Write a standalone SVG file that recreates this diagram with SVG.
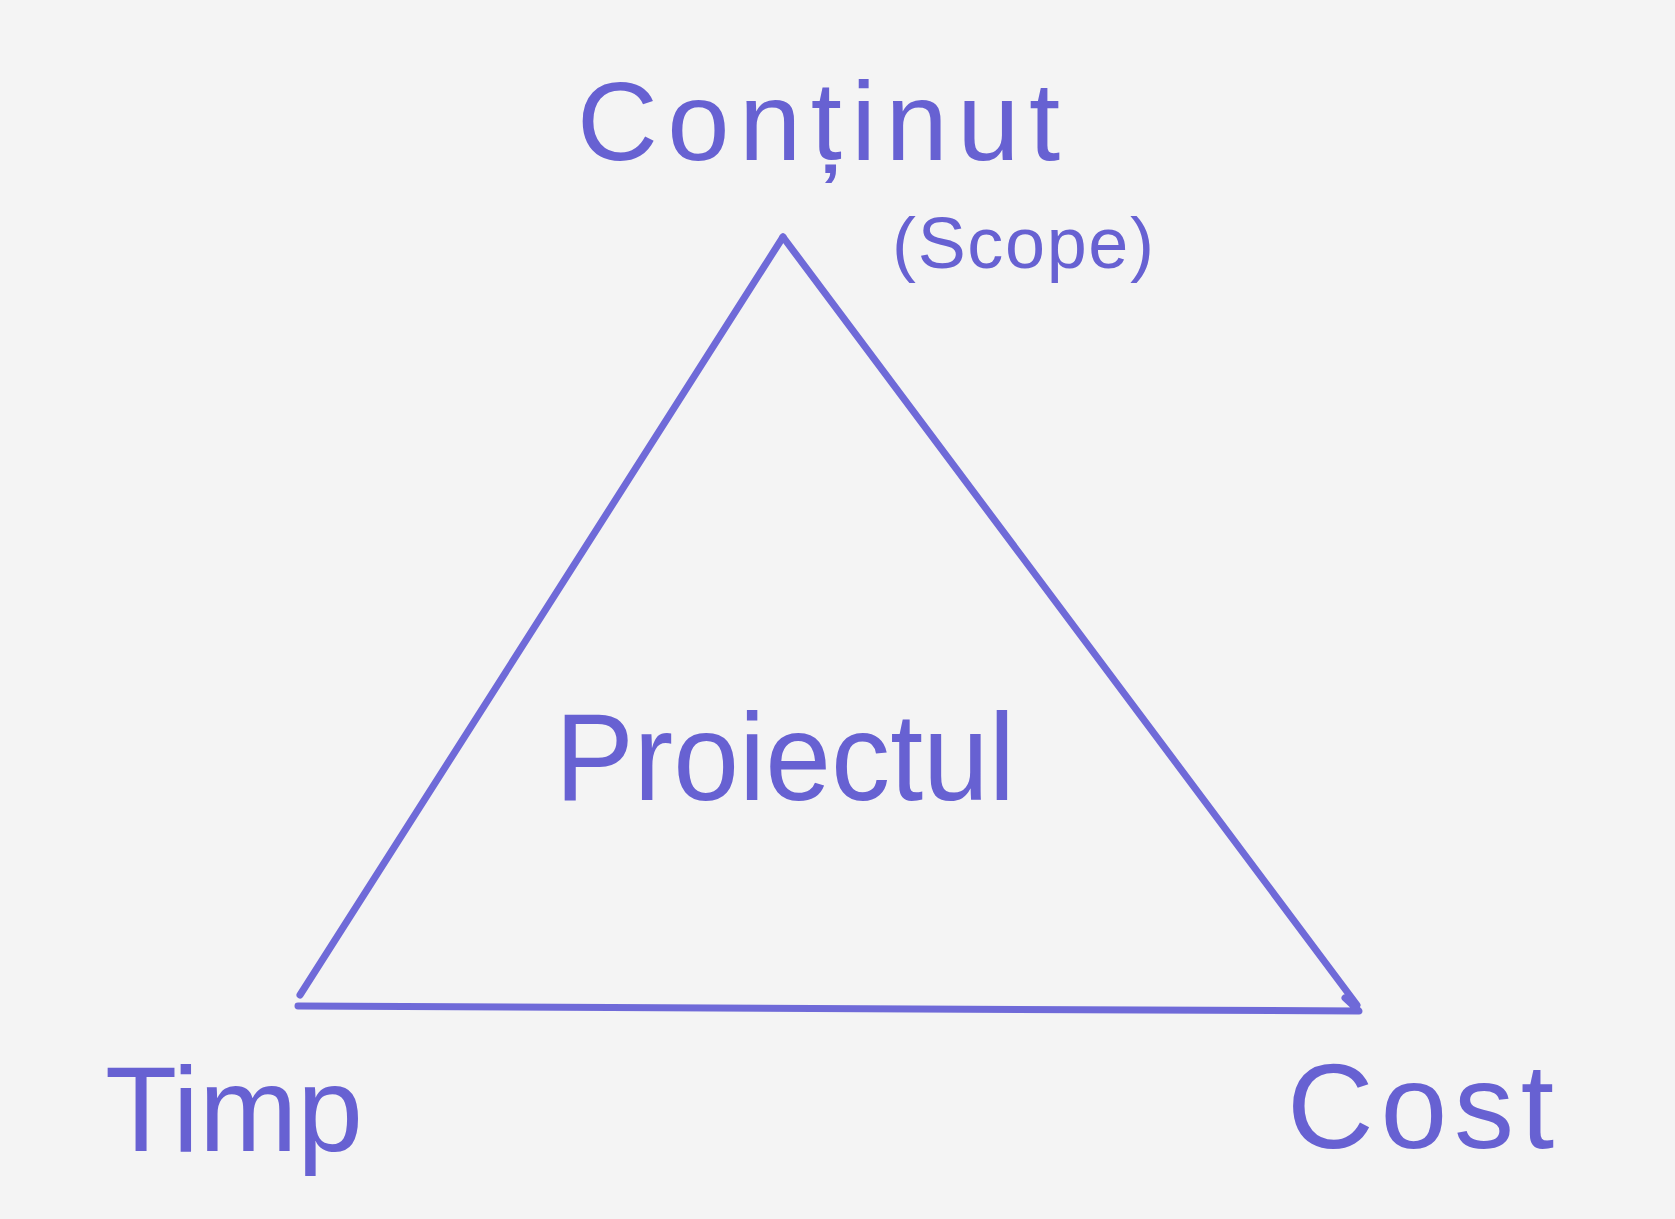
<svg xmlns="http://www.w3.org/2000/svg" width="1675" height="1219" viewBox="0 0 1675 1219">
  <style>
    .lbl { font-family: "Liberation Sans", Arial, sans-serif; fill: #6761d2; }
    .edge { stroke: #6f6ad8; stroke-width: 7; stroke-linecap: round; stroke-linejoin: round; fill: none; }
  </style>
  <rect x="0" y="0" width="1675" height="1219" fill="#f4f4f4"/>
  <g id="connectors">
    <line class="edge" x1="783" y1="237" x2="300" y2="995"/>
    <line class="edge" x1="783" y1="237" x2="1357" y2="1005"/>
    <path class="edge" d="M298 1006 L1359 1011 L1345 998"/>
  </g>
  <g id="node-scope">
    <text class="lbl" x="577" y="160" font-size="112" textLength="483" lengthAdjust="spacing">Conținut</text>
    <text class="lbl" x="892" y="268" font-size="72" textLength="262" lengthAdjust="spacing">(Scope)</text>
  </g>
  <g id="node-project">
    <text class="lbl" x="555" y="800" font-size="125" textLength="460" lengthAdjust="spacingAndGlyphs">Proiectul</text>
  </g>
  <g id="node-time">
    <text class="lbl" x="105" y="1151" font-size="120" textLength="258" lengthAdjust="spacingAndGlyphs">Timp</text>
  </g>
  <g id="node-cost">
    <text class="lbl" x="1287" y="1148" font-size="120" textLength="267" lengthAdjust="spacing">Cost</text>
  </g>
</svg>
